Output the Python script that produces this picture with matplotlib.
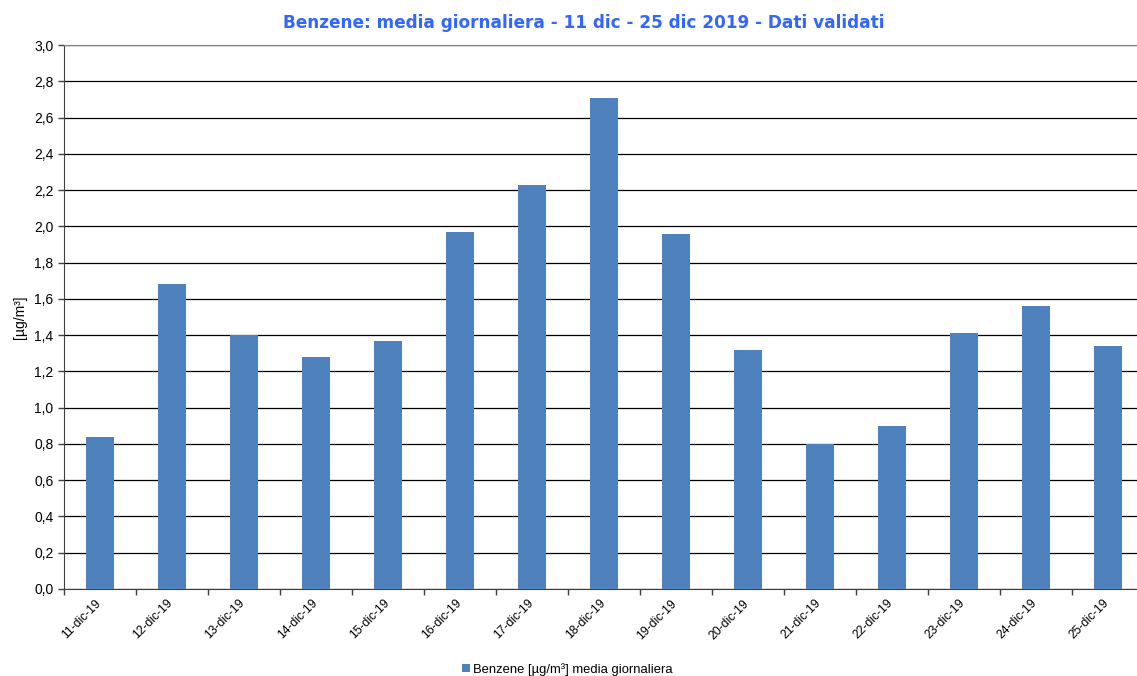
import matplotlib.pyplot as plt
import matplotlib.transforms as mtransforms
import numpy as np

plt.rcParams['font.family'] = ['Liberation Sans', 'DejaVu Sans']

days = ['11-dic-19', '12-dic-19', '13-dic-19', '14-dic-19', '15-dic-19',
        '16-dic-19', '17-dic-19', '18-dic-19', '19-dic-19', '20-dic-19',
        '21-dic-19', '22-dic-19', '23-dic-19', '24-dic-19', '25-dic-19']
benzene = [0.84, 1.68, 1.40, 1.28, 1.37, 1.97, 2.23, 2.71, 1.96, 1.32,
           0.80, 0.90, 1.41, 1.56, 1.34]
yticks = [0.0, 0.2, 0.4, 0.6, 0.8, 1.0, 1.2, 1.4, 1.6, 1.8, 2.0, 2.2, 2.4, 2.6, 2.8, 3.0]

fig = plt.figure(figsize=(11.37, 6.76), dpi=100)
ax = fig.add_axes([0.0563, 0.1287, 0.95, 0.8047])

x = np.arange(len(days))
ax.bar(x, benzene, width=0.39, color='#4F81BD', zorder=3,
       label='Benzene [µg/m³] media giornaliera')

ax.set_xlim(-0.5, len(days) - 0.5)
ax.set_ylim(0, 3.0)
ax.set_yticks(yticks)
ax.set_yticklabels([f'{v:.1f}'.replace('.', ',') for v in yticks], fontsize=10)
ax.yaxis.grid(True, color='black', linewidth=0.9, zorder=0)
ax.set_axisbelow(True)

# category labels in the middle, tick marks on the boundaries
ax.set_xticks(x)
ax.set_xticklabels(days, rotation=45, ha='right', rotation_mode='anchor', fontsize=8.7)
ax.tick_params(axis='x', length=0, pad=6)
shift = mtransforms.ScaledTranslation(-5 / 100, 0, fig.dpi_scale_trans)
for lbl in ax.get_xticklabels():
    lbl.set_transform(lbl.get_transform() + shift)
ax.set_xticks(np.arange(-0.5, len(days), 1), minor=True)
ax.tick_params(axis='x', which='minor', length=4, color='#404040', width=1)
ax.tick_params(axis='y', length=4, color='#404040', width=1)

ax.spines['right'].set_visible(False)
ax.spines['top'].set_color('#808080')
ax.spines['left'].set_color('#404040')
ax.spines['bottom'].set_color('#404040')

ax.set_ylabel('[µg/m³]', fontsize=10, labelpad=5)
fig.text(0.513, 0.966, 'Benzene: media giornaliera - 11 dic - 25 dic 2019 - Dati validati',
         ha='center', va='center', color='#3366FF', fontsize=12.2, fontweight='bold',
         family='DejaVu Sans')

ax.legend(loc='center', bbox_to_anchor=(0.466, -0.148), frameon=False, fontsize=9.4,
          handlelength=0.6, handleheight=0.6, handletextpad=0.3)

fig.savefig('out.png', dpi=100)
